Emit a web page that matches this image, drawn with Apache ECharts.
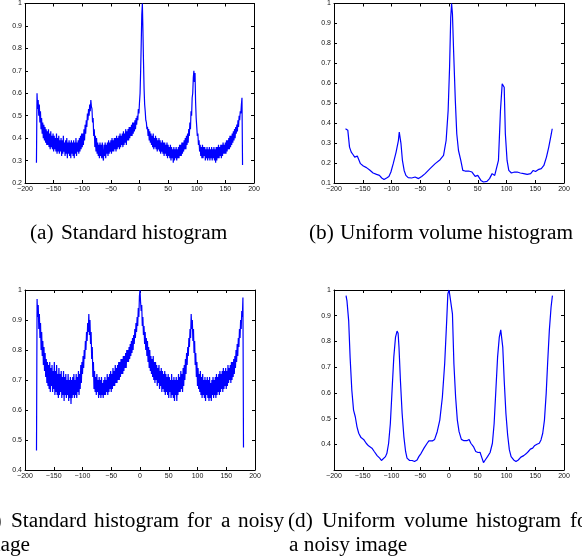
<!DOCTYPE html>
<html><head><meta charset="utf-8">
<script src="https://cdn.jsdelivr.net/npm/echarts@6/dist/echarts.min.js"></script>
<style>html,body{margin:0;padding:0;background:#fff}#c{width:582px;height:559px}</style>
</head><body><div id="c"></div>
<script>
// angle bins for the noisy histograms (a) and (c): -180 .. 180 in 1 degree steps
const binStart = -180;
// (a) Standard histogram
const aVals = [0.29,0.60,0.53,0.57,0.50,0.55,0.47,0.52,0.44,0.49,
0.42,0.47,0.40,0.46,0.39,0.45,0.38,0.44,0.37,0.43,
0.37,0.44,0.36,0.42,0.35,0.43,0.36,0.41,0.35,0.42,
0.34,0.41,0.35,0.40,0.34,0.42,0.33,0.40,0.34,0.41,
0.33,0.39,0.34,0.40,0.32,0.39,0.33,0.41,0.34,0.38,
0.32,0.39,0.33,0.40,0.31,0.38,0.33,0.39,0.32,0.38,
0.31,0.39,0.33,0.38,0.32,0.39,0.31,0.38,0.33,0.40,
0.32,0.38,0.34,0.39,0.33,0.40,0.34,0.41,0.35,0.42,
0.36,0.42,0.37,0.44,0.39,0.46,0.42,0.48,0.45,0.51,
0.48,0.53,0.50,0.55,0.52,0.57,0.54,0.53,0.47,0.49,
0.41,0.44,0.36,0.41,0.34,0.40,0.33,0.38,0.32,0.37,
0.31,0.38,0.32,0.37,0.31,0.38,0.32,0.30,0.37,0.32,
0.38,0.31,0.37,0.33,0.38,0.32,0.39,0.33,0.38,0.34,
0.39,0.33,0.40,0.34,0.39,0.34,0.40,0.35,0.40,0.34,
0.41,0.35,0.40,0.36,0.41,0.35,0.42,0.36,0.41,0.37,
0.42,0.36,0.43,0.37,0.42,0.38,0.44,0.37,0.43,0.39,
0.44,0.39,0.45,0.40,0.45,0.41,0.46,0.41,0.47,0.42,
0.47,0.43,0.48,0.44,0.49,0.46,0.50,0.48,0.53,0.51,
0.56,0.60,0.70,0.82,0.95,1.00,0.88,0.74,0.62,0.55,
0.52,0.48,0.47,0.44,0.45,0.41,0.44,0.39,0.43,0.38,
0.42,0.37,0.41,0.36,0.42,0.35,0.40,0.36,0.41,0.35,
0.40,0.34,0.39,0.35,0.40,0.34,0.39,0.33,0.38,0.34,
0.39,0.33,0.38,0.32,0.38,0.33,0.37,0.32,0.38,0.31,
0.37,0.32,0.36,0.31,0.37,0.30,0.36,0.31,0.35,0.29,
0.36,0.30,0.35,0.31,0.36,0.30,0.35,0.31,0.36,0.31,
0.37,0.32,0.37,0.32,0.38,0.33,0.38,0.34,0.39,0.35,
0.40,0.35,0.41,0.37,0.42,0.38,0.44,0.41,0.47,0.44,
0.52,0.50,0.58,0.60,0.67,0.70,0.65,0.69,0.56,0.49,
0.45,0.41,0.42,0.37,0.39,0.34,0.37,0.32,0.36,0.31,
0.37,0.31,0.36,0.32,0.36,0.30,0.35,0.31,0.36,0.30,
0.35,0.31,0.36,0.30,0.35,0.31,0.36,0.30,0.35,0.31,
0.36,0.30,0.35,0.29,0.36,0.30,0.36,0.31,0.37,0.31,
0.36,0.32,0.37,0.31,0.37,0.32,0.38,0.33,0.37,0.33,
0.38,0.33,0.39,0.34,0.39,0.35,0.40,0.35,0.41,0.36,
0.41,0.37,0.42,0.38,0.43,0.39,0.44,0.40,0.45,0.42,
0.46,0.43,0.48,0.45,0.50,0.48,0.52,0.51,0.55,0.58,
0.28];
// (c) Standard histogram for a noisy image
const cVals = [0.465,0.97,0.91,0.95,0.87,0.92,0.84,0.89,0.80,0.86,
0.78,0.83,0.75,0.81,0.73,0.79,0.71,0.77,0.69,0.76,
0.68,0.75,0.67,0.76,0.66,0.74,0.68,0.75,0.66,0.73,
0.67,0.76,0.65,0.73,0.66,0.75,0.65,0.72,0.64,0.74,
0.65,0.72,0.66,0.73,0.64,0.71,0.65,0.73,0.63,0.71,
0.65,0.72,0.64,0.70,0.65,0.72,0.63,0.70,0.64,0.71,
0.62,0.70,0.64,0.71,0.65,0.72,0.64,0.70,0.65,0.72,
0.64,0.71,0.66,0.73,0.65,0.72,0.67,0.75,0.69,0.76,
0.72,0.78,0.74,0.80,0.77,0.83,0.80,0.86,0.83,0.89,
0.86,0.92,0.85,0.90,0.82,0.86,0.77,0.81,0.71,0.76,
0.67,0.73,0.66,0.71,0.65,0.72,0.66,0.70,0.64,0.71,
0.65,0.70,0.64,0.71,0.65,0.69,0.64,0.70,0.65,0.71,
0.65,0.70,0.66,0.72,0.65,0.71,0.66,0.72,0.67,0.73,
0.66,0.72,0.67,0.74,0.68,0.73,0.68,0.75,0.69,0.74,
0.69,0.75,0.70,0.76,0.70,0.76,0.71,0.77,0.72,0.77,
0.72,0.78,0.73,0.78,0.74,0.79,0.74,0.80,0.76,0.80,
0.76,0.81,0.77,0.82,0.78,0.83,0.79,0.84,0.80,0.85,
0.82,0.87,0.84,0.89,0.86,0.91,0.88,0.94,0.91,0.98,
1.00,0.96,0.93,0.95,0.88,0.91,0.85,0.88,0.82,0.86,
0.80,0.84,0.78,0.83,0.76,0.81,0.74,0.80,0.73,0.78,
0.72,0.77,0.71,0.78,0.70,0.76,0.69,0.76,0.70,0.75,
0.68,0.74,0.69,0.75,0.67,0.73,0.68,0.74,0.66,0.73,
0.67,0.72,0.66,0.73,0.65,0.72,0.66,0.71,0.65,0.72,
0.64,0.71,0.66,0.70,0.64,0.72,0.65,0.70,0.64,0.71,
0.63,0.70,0.65,0.71,0.63,0.70,0.65,0.72,0.66,0.71,
0.66,0.73,0.67,0.72,0.66,0.74,0.68,0.75,0.70,0.77,
0.72,0.79,0.75,0.81,0.78,0.84,0.81,0.87,0.84,0.92,
0.87,0.90,0.83,0.87,0.79,0.83,0.75,0.79,0.71,0.76,
0.68,0.74,0.67,0.72,0.66,0.73,0.65,0.71,0.64,0.72,
0.65,0.70,0.64,0.71,0.63,0.70,0.65,0.71,0.64,0.70,
0.63,0.71,0.64,0.69,0.63,0.70,0.65,0.71,0.64,0.70,
0.65,0.71,0.64,0.72,0.65,0.71,0.66,0.72,0.65,0.73,
0.66,0.72,0.67,0.73,0.66,0.74,0.67,0.73,0.68,0.74,
0.67,0.73,0.68,0.75,0.69,0.74,0.70,0.75,0.69,0.76,
0.70,0.76,0.71,0.77,0.72,0.78,0.74,0.80,0.76,0.82,
0.78,0.84,0.81,0.87,0.84,0.90,0.87,0.93,0.91,0.975,
0.475];
// (b) Uniform volume histogram
const bX = [-180,-178.5,-176,-173,-170,-167,-164,-162,-159.5,-157,-154,-149,-143.5,-140.5,-138,-132,-126,-121,-117,-113,-108.5,-104.5,-101,-97,-92,-88,-86.5,-85,-83.5,-81,-78,-75,-71,-65,-59,-53,-47.5,-41.5,-33,-24,-15.5,-12.5,-9.5,-5,-1.5,1,3,4.5,6,8,11,13.5,16.5,20.5,24,28,34,40,43,45.5,50,53,55.5,60,66,70.5,75,77.5,79.5,82.5,86,89.5,92.5,94,96,98,101,104,108.5,114,118.5,124,130,136,142,146.5,150.5,155,160.5,165,169.5,173.5,178,179.5];
const bY = [0.372,0.378,0.365,0.28,0.255,0.243,0.23,0.222,0.235,0.225,0.197,0.185,0.177,0.182,0.165,0.15,0.143,0.138,0.125,0.117,0.125,0.133,0.155,0.197,0.255,0.313,0.355,0.35,0.297,0.213,0.163,0.138,0.127,0.125,0.13,0.122,0.133,0.147,0.172,0.197,0.217,0.213,0.238,0.313,0.463,0.68,0.93,1.0,0.947,0.763,0.513,0.347,0.263,0.213,0.163,0.16,0.16,0.155,0.158,0.133,0.138,0.13,0.113,0.105,0.108,0.122,0.147,0.15,0.138,0.147,0.213,0.463,0.597,0.603,0.58,0.347,0.213,0.163,0.15,0.155,0.155,0.15,0.147,0.143,0.147,0.163,0.158,0.167,0.172,0.188,0.23,0.28,0.347,0.372];
// (d) Uniform volume histogram for a noisy image
const dX = [-179,-178.5,-177.5,-174.5,-172,-169,-166,-163,-160,-157,-153,-148.5,-144,-140,-134,-130,-125,-120.5,-117.5,-114.5,-110.5,-108,-105,-102,-99,-96,-93,-90.3,-88.5,-87,-84.5,-81.5,-78.5,-75.5,-73,-68.5,-64,-60,-55.5,-52.5,-48.5,-43.5,-38,-35,-29,-25,-20.5,-16,-11.5,-7.5,-4,-2,0,1.5,4,6,8.5,11.5,14.5,17.5,21.5,26,31,35,38,42.5,46.5,50.5,54,56.5,60,63,67,71.5,75.5,78.5,81.5,84.5,87.5,90,92,93.5,96,99,102,105,108,112.5,116.5,120.5,125,130,134,138,141.5,145.5,148.5,153,157,160,163,166,169,171.5,174.5,177.5,179.5,180];
const dY = [0.978,0.97,0.959,0.881,0.739,0.61,0.533,0.507,0.468,0.443,0.426,0.419,0.404,0.394,0.385,0.372,0.356,0.346,0.337,0.342,0.352,0.365,0.404,0.481,0.61,0.739,0.817,0.84,0.832,0.778,0.649,0.52,0.43,0.372,0.346,0.337,0.337,0.333,0.339,0.352,0.365,0.385,0.404,0.413,0.413,0.419,0.449,0.494,0.584,0.714,0.881,0.985,1.0,0.978,0.972,0.907,0.714,0.584,0.494,0.449,0.419,0.414,0.414,0.419,0.404,0.391,0.372,0.368,0.369,0.352,0.329,0.339,0.352,0.368,0.404,0.481,0.61,0.739,0.817,0.845,0.84,0.778,0.649,0.52,0.436,0.378,0.352,0.339,0.333,0.339,0.35,0.356,0.363,0.372,0.381,0.385,0.394,0.4,0.404,0.417,0.443,0.494,0.597,0.714,0.843,0.933,0.972,0.978];
// axis ranges per panel [ymin, ymax]
const yRanges = [[0.2,1],[0.1,1],[0.4,1],[0.3,1]];
const xRange = [-200,200];
const xTickStep = 50, yTickStep = 0.1;

function pairsFromBins(vals){ return vals.map((v,i)=>[binStart+i, v]); }
function pairsFromXY(xs, ys){ return xs.map((x,i)=>[x, ys[i]]); }

const grids = [
  {left:25, top:3, width:229, height:180},
  {left:334, top:3, width:230, height:180},
  {left:25, top:290, width:230, height:180},
  {left:334, top:290, width:230, height:180}
];
const lblFont = {fontSize:7, color:'#111', fontFamily:'"Liberation Sans", Arial, sans-serif'};
const xAxes = [], yAxes = [];
grids.forEach((g, gi) => {
  ['bottom','top'].forEach(pos => {
    xAxes.push({type:'value', gridIndex:gi, position:pos, min:xRange[0], max:xRange[1], interval:xTickStep,
      axisLine:{show:true, onZero:false, lineStyle:{color:'#000', width:1}},
      axisTick:{show:true, inside:true, length:3, lineStyle:{color:'#000', width:1}},
      axisLabel:Object.assign({show:pos==='bottom', margin:3, formatter:v=>String(v).replace('-', '\u2212')}, lblFont),
      splitLine:{show:false}});
  });
  ['left','right'].forEach(pos => {
    yAxes.push({type:'value', gridIndex:gi, position:pos, min:yRanges[gi][0], max:yRanges[gi][1], interval:yTickStep,
      axisLine:{show:true, onZero:false, lineStyle:{color:'#000', width:1}},
      axisTick:{show:true, inside:true, length:3, lineStyle:{color:'#000', width:1}},
      axisLabel:Object.assign({show:pos==='left', margin:3, showMinLabel: gi!==3,
        formatter:v=>String(Math.round(v*10)/10)}, lblFont),
      splitLine:{show:false}});
  });
});
const datasets = [pairsFromBins(aVals), pairsFromXY(bX,bY), pairsFromBins(cVals), pairsFromXY(dX,dY)];
const series = datasets.map((d, gi) => ({
  type:'line', xAxisIndex:gi*2, yAxisIndex:gi*2, data:d, showSymbol:false, symbol:'none',
  lineStyle:{color:'#0000ff', width:1.2}, animation:false, clip:true, sampling:null
}));

const capFont = '21.3px "Liberation Serif", "Times New Roman", serif';
function txt(t, x, y){ return {type:'text', x:x, y:y, style:{text:t, font:capFont, fill:'#000', verticalAlign:'middle', align:'left'}}; }
const graphics = [
  txt('(a)', 30, 233), txt('Standard histogram', 61, 233),
  txt('(b)', 309, 233), txt('Uniform volume histogram', 340, 233),
  txt('(c)', -22, 521), txt('Standard', 11, 521), txt('histogram', 94, 521), txt('for', 187, 521), txt('a', 221, 521), txt('noisy', 238, 521),
  txt('image', -22, 545),
  txt('(d)', 288, 521), txt('Uniform', 322, 521), txt('volume', 404, 521), txt('histogram', 476, 521), txt('for', 570, 521),
  txt('a noisy image', 289, 545)
];

const chart = echarts.init(document.getElementById('c'), null, {renderer:'canvas'});
chart.setOption({animation:false, backgroundColor:'#fff', grid:grids, xAxis:xAxes, yAxis:yAxes, series:series, graphic:graphics});
</script></body></html>
